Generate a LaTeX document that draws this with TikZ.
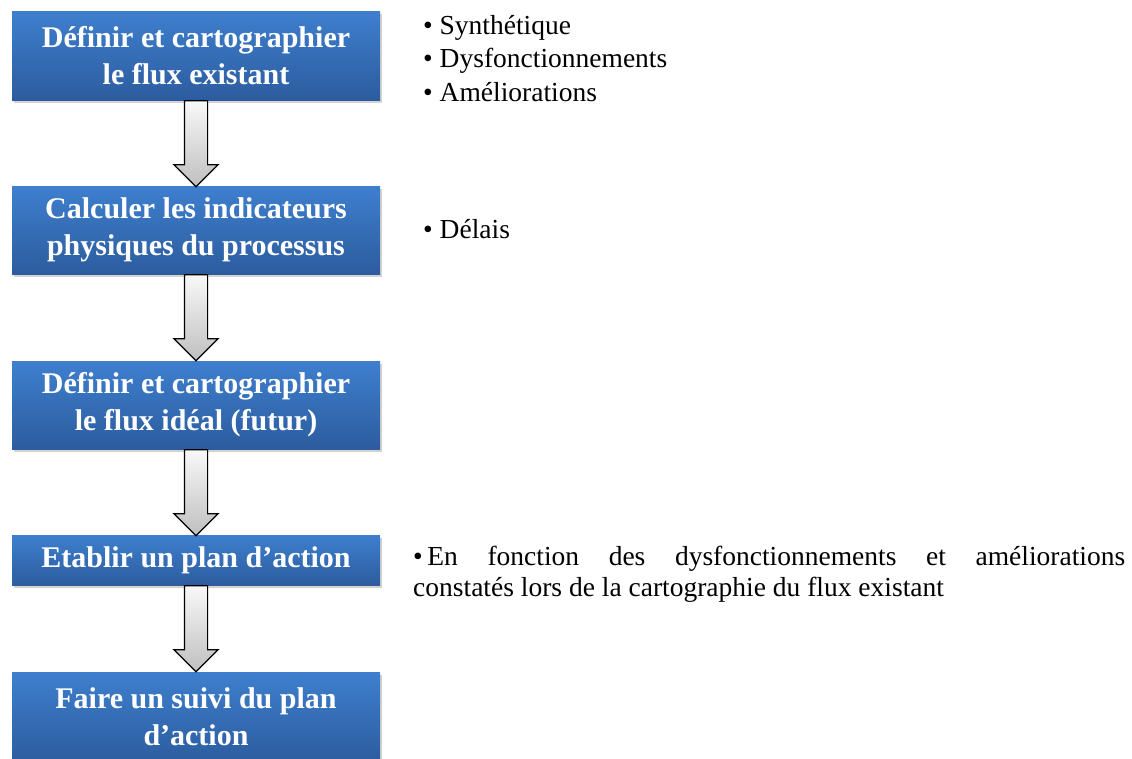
\documentclass[tikz,border=0pt]{standalone}
\usepackage{fontspec}
\setmainfont{Liberation Serif}
\usetikzlibrary{shapes.arrows,shadows}
\definecolor{steptop}{RGB}{62,127,206}
\definecolor{stepbottom}{RGB}{44,92,158}
\tikzset{
  stepbox/.style={rectangle, minimum width=368pt, inner sep=0pt, align=center,
    top color=steptop, bottom color=stepbottom, text=white,
    font=\fontsize{30}{37}\selectfont\bfseries,
    drop shadow={shadow xshift=1.5pt, shadow yshift=-3pt, opacity=0.35}},
  flowarrow/.style={single arrow, draw=black, line width=1.2pt, shape border rotate=270,
    minimum height=86pt, inner sep=11pt, single arrow head extend=10.5pt,
    top color=gray!5, bottom color=gray!50, pos=0, anchor=tail},
  notes/.style={anchor=north west, align=left, inner sep=0pt,
    font=\fontsize{27.5}{33.5}\selectfont}
}
\begin{document}
\begin{tikzpicture}[x=1pt,y=-1pt]
      \useasboundingbox (0,0) rectangle (1132,758);
      % Steps of the method
      \node[stepbox, minimum height=89pt] (define) at (196,55.5) {Définir et cartographier\\le flux existant};
      \node[stepbox, minimum height=88pt] (compute) at (196,230) {Calculer les indicateurs\\physiques du processus};
      \node[stepbox, minimum height=88pt] (ideal) at (196,405) {Définir et cartographier\\le flux idéal (futur)};
      \node[stepbox, minimum height=50pt] (plan) at (196,560) {Etablir un plan d’action};
      \node[stepbox, minimum height=90pt] (follow) at (196,717) {Faire un suivi du plan\\d’action};
      % Arrows between steps
      \path (define.south) -- (compute.north) node[flowarrow] (arrowA) {};
      \path (compute.south) -- (ideal.north) node[flowarrow] (arrowB) {};
      \path (ideal.south) -- (plan.north) node[flowarrow] (arrowC) {};
      \path (plan.south) -- (follow.north) node[flowarrow] (arrowD) {};
      % Notes on the right
      \node[notes] (noteDefine) at (423,15) {\textbullet{} Synthétique\\\textbullet{} Dysfonctionnements\\\textbullet{} Améliorations};
      \node[notes] (noteCompute) at (423,219) {\textbullet{} Délais};
      \node[notes, text width=712pt, align=justify, font=\fontsize{27.5}{31}\selectfont] (notePlan) at (413,546)
        {\textbullet{}\,En fonction des dysfonctionnements et améliorations\linebreak constatés lors de la cartographie du flux existant};
\end{tikzpicture}
\end{document}
